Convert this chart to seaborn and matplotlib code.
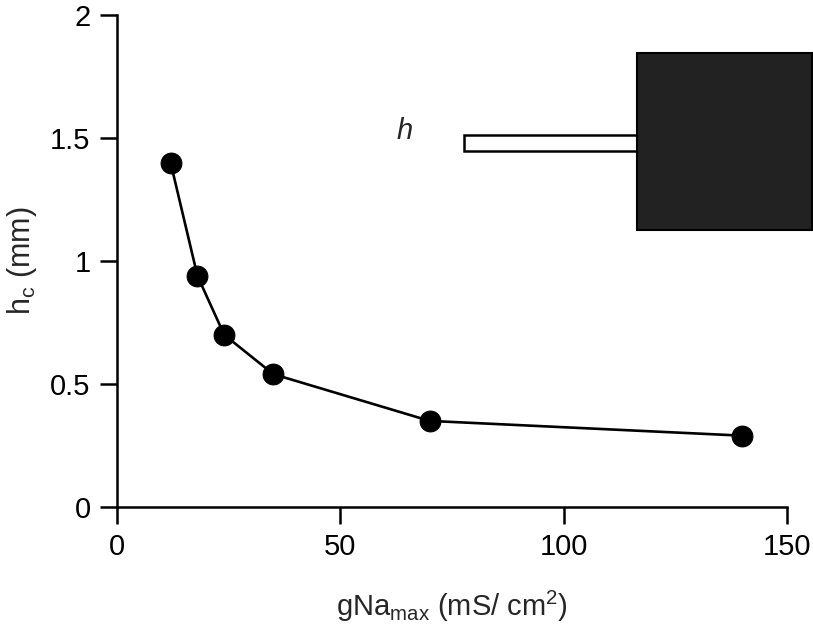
import matplotlib
matplotlib.use("Agg")
import matplotlib.pyplot as plt
import seaborn as sns
import pandas as pd
from matplotlib.patches import Rectangle

# Data
gna_max = [12, 18, 24, 35, 70, 140]
h_c = [1.40, 0.94, 0.70, 0.54, 0.35, 0.29]
x_ticks = [0, 50, 100, 150]
y_ticks = [0, 0.5, 1, 1.5, 2]
y_ticklabels = ["0", "0.5", "1", "1.5", "2"]

sns.set_theme(style="ticks")
plt.rcParams['font.family'] = ['Liberation Sans', 'DejaVu Sans']
plt.rcParams['mathtext.fontset'] = 'custom'
plt.rcParams['mathtext.rm'] = 'Liberation Sans'
plt.rcParams['mathtext.it'] = 'Liberation Sans:italic'

df = pd.DataFrame({"g": gna_max, "h": h_c})

fig = plt.figure(figsize=(8.13, 6.33), dpi=100)
ax = fig.add_axes([117/813, 1-507/633, (787-117)/813, (507-15)/633])

sns.lineplot(data=df, x="g", y="h", ax=ax, color="black", linewidth=1.9,
             marker="o", markersize=15, markeredgecolor="black",
             markerfacecolor="black", clip_on=False)

ax.set_xlim(0, 150)
ax.set_ylim(0, 2)
ax.set_xticks(x_ticks)
ax.set_xticklabels([str(t) for t in x_ticks])
ax.set_yticks(y_ticks)
ax.set_yticklabels(y_ticklabels)
for s in ["top", "right"]:
    ax.spines[s].set_visible(False)
for s in ["left", "bottom"]:
    ax.spines[s].set_linewidth(1.8)
    ax.spines[s].set_color("black")
ax.tick_params(axis="both", direction="out", length=12, width=1.8,
               labelsize=21, colors="black", pad=7)

ax.set_xlabel(r"gNa$_{\mathrm{max}}$ (mS/ cm$^{2}$)", fontsize=21, labelpad=20)
ax.set_ylabel(r"h$_{\mathrm{c}}$ (mm)", fontsize=22, labelpad=8)

# Schematic inset (axes-fraction geometry)
tr = ax.transAxes
soma = Rectangle((0.776, 0.563), 0.261, 0.360, transform=tr, facecolor="#222222",
                 edgecolor="black", linewidth=1.5, clip_on=False)
axon = Rectangle((0.518, 0.723), 0.262, 0.033, transform=tr, facecolor="white",
                 edgecolor="black", linewidth=1.8, clip_on=False)
ax.add_patch(axon)
ax.add_patch(soma)
ax.text(0.43, 0.765, "h", transform=tr, fontsize=21, style="italic",
        ha="center", va="center")

fig.savefig("out.png", dpi=100)
